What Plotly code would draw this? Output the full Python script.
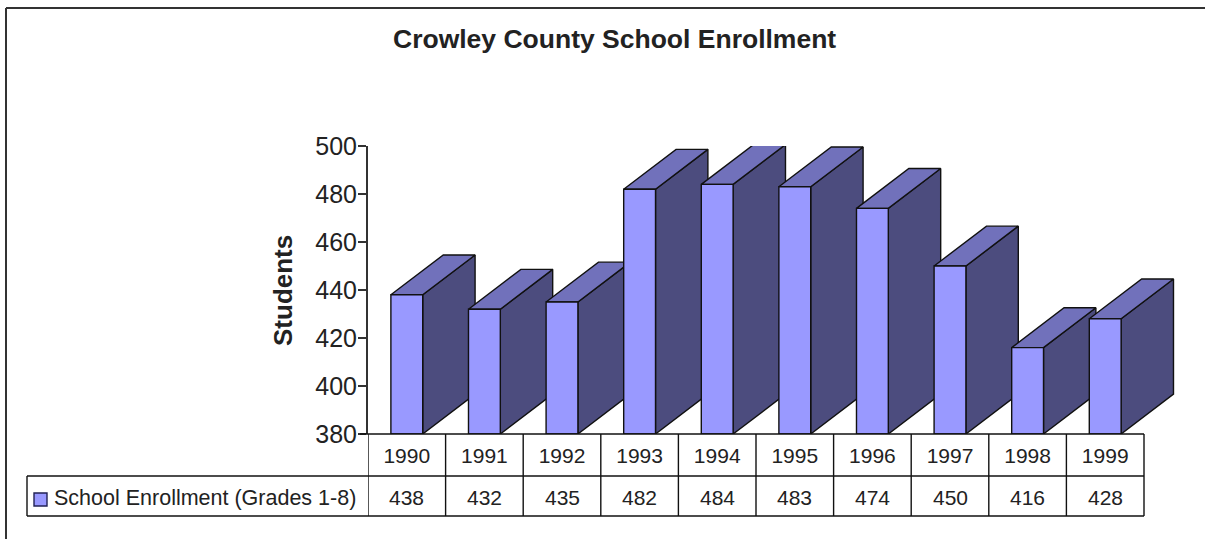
import plotly.graph_objects as go

years = ["1990", "1991", "1992", "1993", "1994", "1995", "1996", "1997", "1998", "1999"]
enrollment = [438, 432, 435, 482, 484, 483, 474, 450, 416, 428]
series_name = "School Enrollment (Grades 1-8)"
chart_title = "Crowley County School Enrollment"
y_title = "Students"
y_ticks = [380, 400, 420, 440, 460, 480, 500]

W, H = 1205, 539
L, R, T, B = 368, 1176, 146, 434
CAT = (1144 - 368) / 10
Y_MIN, Y_MAX = 380, 500
BAR = 0.41
DX = 0.675
DY = 16.6
FONT = "Liberation Sans, Arial, sans-serif"
INK = "#222222"
FRONT, SIDE, TOP = "#9999FF", "#4C4C7E", "#7171BB"


def px(x):
    return (x - L) / (R - L)


def py(y):
    return (B - y) / (B - T)


fig = go.Figure()


def poly(xs, ys, color):
    fig.add_trace(go.Scatter(
        x=xs + xs[:1], y=ys + ys[:1], mode="lines", fill="toself", fillcolor=color,
        line=dict(color="#111111", width=1.4), showlegend=False, hoverinfo="skip",
        cliponaxis=False))


for i, (year, v) in enumerate(zip(years, enrollment)):
    x0, x1 = i - BAR / 2, i + BAR / 2
    poly([x1, x1 + DX, x1 + DX, x1], [Y_MIN, Y_MIN + DY, v + DY, v], SIDE)
    poly([x0, x1, x1 + DX, x0 + DX], [v, v, v + DY, v + DY], TOP)
    poly([x0, x1, x1, x0], [Y_MIN, Y_MIN, v, v], FRONT)

line = dict(color="#111111", width=1.4)
shapes = []


def pxline(x0, y0, x1, y1, ln=line):
    shapes.append(dict(type="line", xref="paper", yref="paper",
                       x0=px(x0), y0=py(y0), x1=px(x1), y1=py(y1), line=ln))


frame = dict(color="#333333", width=2)
pxline(6, 8, W, 8, frame)
pxline(6, 8, 6, H, frame)
pxline(360, 434, 1144, 434)
pxline(27, 476, 1144, 476)
pxline(27, 516, 1144, 516)
pxline(27, 476, 27, 516)
for i in range(len(years) + 1):
    shapes.append(dict(type="line", xref="x", yref="paper", x0=i - 0.5, x1=i - 0.5,
                       y0=py(434), y1=py(516), line=line))
shapes.append(dict(type="rect", xref="paper", yref="paper",
                   x0=px(34), x1=px(47), y0=py(493), y1=py(506),
                   fillcolor=FRONT, line=dict(color="#222255", width=1.4)))


def label(text, x, y, size, xref="paper", xanchor="center", bold=False, angle=0):
    return dict(text=text, xref=xref, yref="paper", x=x, y=py(y), showarrow=False,
                xanchor=xanchor, yanchor="middle", textangle=angle,
                font=dict(family=FONT, size=size, color=INK, weight="bold" if bold else "normal"))


annotations = [
    label(chart_title, px(614), 39, 26.5, bold=True),
    label(y_title, px(283), 291, 26, bold=True, angle=-90),
    label(series_name, px(52), 498, 21.5, xanchor="left"),
]
for i, v in enumerate(enrollment):
    annotations.append(label(str(v), i, 497, 21, xref="x"))

fig.update_layout(
    width=W, height=H, autosize=False,
    margin=dict(l=L, r=W - R, t=T, b=H - B),
    paper_bgcolor="white", plot_bgcolor="rgba(0,0,0,0)",
    showlegend=False, shapes=shapes, annotations=annotations,
    xaxis=dict(range=[-0.5, -0.5 + (R - L) / CAT], tickvals=list(range(len(years))), ticktext=years,
               showgrid=False, zeroline=False, showline=False, ticks="outside", ticklen=3,
               tickcolor="rgba(0,0,0,0)", tickfont=dict(family=FONT, size=21, color=INK)),
    yaxis=dict(range=[Y_MIN, Y_MAX], tickvals=y_ticks, showgrid=False, zeroline=False,
               showline=True, linecolor="#333333", linewidth=2, ticks="outside", ticklen=8,
               tickcolor="#333333", tickwidth=1.5, ticklabelstandoff=-4,
               tickfont=dict(family=FONT, size=25, color=INK)),
)

fig.write_html("out.html", config={"displayModeBar": False},
               post_script="document.body.style.margin='0';document.documentElement.style.overflow='hidden';")
